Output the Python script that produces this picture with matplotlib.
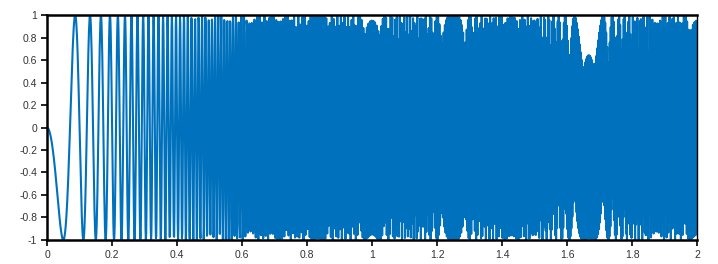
"""Quadratic chirp sampled at 1 kHz, MATLAB-style plot."""
import matplotlib

matplotlib.use("Agg")
import matplotlib.pyplot as plt
import numpy as np

# signal parameters
SAMPLE_RATE = 1000          # Hz
DURATION = 2.0              # s
SWEEP = 100.0               # phase = -2*pi*SWEEP*t^2  (inst. freq 200 t Hz)

x_ticks = [0, 0.2, 0.4, 0.6, 0.8, 1, 1.2, 1.4, 1.6, 1.8, 2]
x_labels = ["0", "0.2", "0.4", "0.6", "0.8", "1", "1.2", "1.4", "1.6", "1.8", "2"]
y_ticks = [-1, -0.8, -0.6, -0.4, -0.2, 0, 0.2, 0.4, 0.6, 0.8, 1]
y_labels = ["-1", "-0.8", "-0.6", "-0.4", "-0.2", "0", "0.2", "0.4", "0.6", "0.8", "1"]

t = np.arange(0, DURATION + 1e-9, 1 / SAMPLE_RATE)
y = -np.sin(2 * np.pi * SWEEP * t ** 2)

plt.rcParams["font.family"] = ["Liberation Sans", "DejaVu Sans"]

fig = plt.figure(figsize=(7.18, 2.64), dpi=100)
ax = fig.add_axes([0.0655, 0.091, 0.9055, 0.852])
ax.plot(t, y, color="#0072BD", lw=1.5)
ax.set_xlim(0, 2)
ax.set_ylim(-1, 1)
ax.set_xticks(x_ticks)
ax.set_xticklabels(x_labels)
ax.set_yticks(y_ticks)
ax.set_yticklabels(y_labels)
ax.tick_params(direction="out", length=4, width=1.2,
               labelsize=7.5, labelcolor="#333333", pad=3)
for side in ("left", "bottom", "top"):
    ax.spines[side].set_linewidth(1.8)
ax.spines["right"].set_linewidth(1.0)

fig.savefig("out.png", dpi=100)
